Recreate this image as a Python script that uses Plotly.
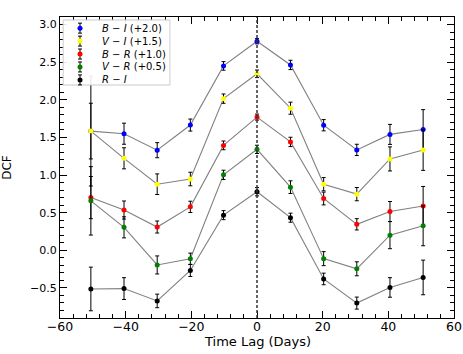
import plotly.graph_objects as go

# time lags (days)
lags = [-50.6, -40.5, -30.4, -20.3, -10.2, 0, 10.2, 20.3, 30.4, 40.5, 50.6]

# DCF values (already offset as in legend)
bi = [1.584, 1.549, 1.330, 1.664, 2.450, 2.778, 2.463, 1.662, 1.334, 1.540, 1.604]
bi_err = [0.37, 0.14, 0.10, 0.08, 0.057, 0.035, 0.062, 0.075, 0.075, 0.133, 0.265]
vi = [1.584, 1.222, 0.878, 0.947, 2.015, 2.345, 1.888, 0.878, 0.746, 1.214, 1.332]
vi_err = [0.73, 0.14, 0.137, 0.09, 0.062, 0.05, 0.08, 0.088, 0.088, 0.16, 0.27]
br = [0.700, 0.535, 0.309, 0.577, 1.394, 1.770, 1.440, 0.688, 0.345, 0.515, 0.588]
br_err = [0.28, 0.12, 0.08, 0.075, 0.058, 0.04, 0.062, 0.085, 0.075, 0.133, 0.26]
vr = [0.657, 0.305, -0.195, -0.113, 1.002, 1.341, 0.839, -0.111, -0.246, 0.201, 0.325]
vr_err = [0.455, 0.14, 0.12, 0.075, 0.062, 0.055, 0.084, 0.093, 0.093, 0.18, 0.265]
ri = [-0.514, -0.509, -0.673, -0.268, 0.467, 0.778, 0.433, -0.381, -0.702, -0.494, -0.361]
ri_err = [0.29, 0.145, 0.09, 0.08, 0.06, 0.055, 0.06, 0.077, 0.08, 0.13, 0.23]

labels = [
    "<i>B</i> − <i>I</i> (+2.0)",
    "<i>V</i> − <i>I</i> (+1.5)",
    "<i>B</i> − <i>R</i> (+1.0)",
    "<i>V</i> − <i>R</i> (+0.5)",
    "<i>R</i> − <i>I</i>",
]
colors = ["blue", "yellow", "red", "green", "black"]
values = [bi, vi, br, vr, ri]
errors = [bi_err, vi_err, br_err, vr_err, ri_err]

fig = go.Figure()

for y in values:
    fig.add_trace(go.Scatter(
        x=lags, y=y, mode="lines", showlegend=False, hoverinfo="skip",
        line=dict(color="gray", width=1.1),
    ))
for name, y, err, color in zip(labels, values, errors, colors):
    fig.add_trace(go.Scatter(
        x=lags, y=y, mode="markers", name=name, showlegend=False,
        marker=dict(color=color, size=5, symbol="circle"),
        error_y=dict(type="data", array=err, color="black", thickness=1, width=2),
    ))

# dashed zero-lag line
fig.add_shape(type="line", x0=0, x1=0, xref="x", y0=0, y1=1, yref="paper",
              line=dict(color="#333333", width=1.5, dash="3px,2px"))

# matplotlib-style legend box, drawn by hand to keep the compact rows
fig.add_shape(type="rect", xref="paper", yref="paper",
              x0=0.008, x1=0.279, y0=0.774, y1=0.990,
              fillcolor="rgba(255,255,255,0.9)", line=dict(color="#cccccc", width=1),
              layer="above")
row_y = [0.963, 0.920, 0.877, 0.834, 0.791]
mk_x = 0.0508
for ry, name, color in zip(row_y, labels, colors):
    common = dict(xref="paper", yref="paper", xsizemode="pixel", ysizemode="pixel",
                  xanchor=mk_x, yanchor=ry, layer="above")
    fig.add_shape(type="line", x0=0, x1=0, y0=-5, y1=5, line=dict(color="black", width=1), **common)
    fig.add_shape(type="line", x0=-2, x1=2, y0=5, y1=5, line=dict(color="black", width=1), **common)
    fig.add_shape(type="line", x0=-2, x1=2, y0=-5, y1=-5, line=dict(color="black", width=1), **common)
    fig.add_shape(type="circle", x0=-2.5, x1=2.5, y0=-2.5, y1=2.5,
                  fillcolor=color, line=dict(color=color, width=0), **common)
    fig.add_annotation(x=0.1015, y=ry, xref="paper", yref="paper", text=name,
                       showarrow=False, xanchor="left", yanchor="middle",
                       font=dict(family="DejaVu Sans", size=10, color="black"))

# x-axis title placed close under the tick labels
fig.add_annotation(x=0.5, y=0, xref="paper", yref="paper", text="Time Lag (Days)",
                   showarrow=False, xanchor="center", yanchor="top", yshift=-14,
                   font=dict(family="DejaVu Sans", size=13, color="black"))

axis_common = dict(
    showline=True, linecolor="black", linewidth=1, mirror="allticks",
    ticks="inside", ticklen=7, tickwidth=1, tickcolor="black",
    showgrid=False, zeroline=False, automargin=False,
)

fig.update_xaxes(
    range=[-60, 60], dtick=20, tick0=0, ticklabelstandoff=-3,
    tickfont=dict(family="DejaVu Sans", size=12.5, color="black"),
    minor=dict(ticks="inside", dtick=4, ticklen=4, tickcolor="black"),
    **axis_common,
)
fig.update_yaxes(
    range=[-0.9, 3.1], dtick=0.5, tick0=0, tickformat=".1f",
    tickfont=dict(family="DejaVu Sans", size=11, color="black"),
    minor=dict(ticks="inside", dtick=0.1, ticklen=4, tickcolor="black"),
    title=dict(text="DCF", font=dict(family="DejaVu Sans", size=12, color="black"), standoff=15),
    **axis_common,
)

fig.update_layout(
    width=463, height=354,
    margin=dict(l=60, r=9, t=17, b=36),
    plot_bgcolor="white", paper_bgcolor="white",
    font=dict(family="DejaVu Sans", color="black"),
    showlegend=False,
)

# drop the browser's default body margin so the figure fills the window
fig.write_html(
    "out.html",
    config={"displayModeBar": False},
    post_script="document.body.style.margin='0';document.body.style.overflow='hidden';",
)
